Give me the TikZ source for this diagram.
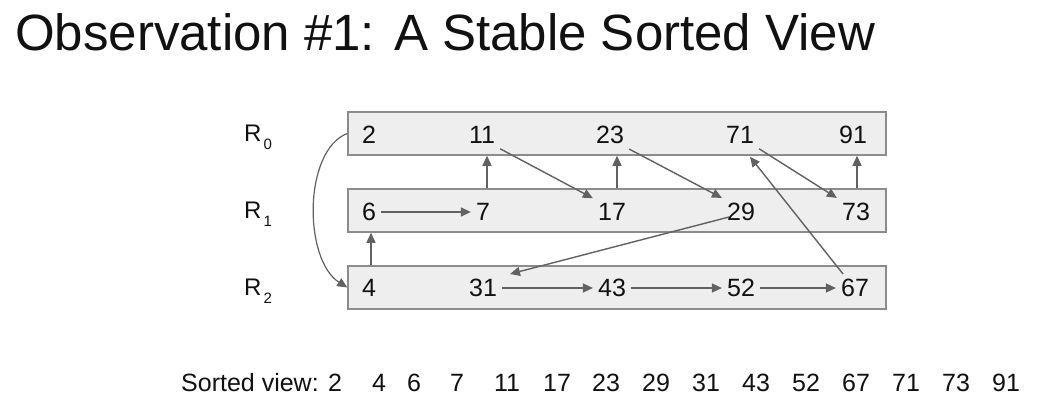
\documentclass[tikz,border=0pt]{standalone}
\usepackage{fontspec}
\setmainfont{Liberation Sans}
\usetikzlibrary{arrows.meta,calc}
\definecolor{boxfill}{HTML}{EEEEEE}
\definecolor{boxline}{HTML}{8C8C8C}
\definecolor{arrowc}{HTML}{616161}
\definecolor{txt}{HTML}{111111}
\begin{document}
\begin{tikzpicture}[x=1pt,y=-1pt,
  rowbox/.style={draw=boxline, fill=boxfill, line width=1.5pt, minimum width=538pt, minimum height=43pt, inner sep=0pt},
  num/.style={font=\fontsize{25}{25}\selectfont, text=txt, inner sep=5pt},
  rlabel/.style={font=\fontsize{24}{24}\selectfont, text=txt, inner sep=0pt, anchor=base west},
  sv/.style={font=\fontsize{25}{25}\selectfont, text=txt, inner sep=0pt, anchor=base},
  conn/.style={draw=arrowc, line width=1.4pt, -{Triangle[length=10pt,width=9pt]}}]
\useasboundingbox[fill=white] (0,0) rectangle (1046,407);
% title
\node[font=\fontsize{51}{51}\selectfont, text=txt, inner sep=0pt, anchor=base west] (title) at (15,50) {Observation \#1: A Stable Sorted View};
% row boxes
\node[rowbox] (b0) at (617,133.5) {};
\node[rowbox] (b1) at (617,210.5) {};
\node[rowbox] (b2) at (617,287.5) {};
% row labels
\node[rlabel] (r0) at (244,141) {R\kern2pt\raisebox{-8pt}{\fontsize{15}{15}\selectfont 0}};
\node[rlabel] (r1) at (244,218) {R\kern2pt\raisebox{-8pt}{\fontsize{15}{15}\selectfont 1}};
\node[rlabel] (r2) at (244,295) {R\kern2pt\raisebox{-8pt}{\fontsize{15}{15}\selectfont 2}};
% numbers
\node[num] (n2)  at (369,135) {2};
\node[num] (n11) at (482,135) {11};
\node[num] (n23) at (610,135) {23};
\node[num] (n71) at (740,135) {71};
\node[num] (n91) at (853,135) {91};
\node[num] (n6)  at (369,212) {6};
\node[num] (n7)  at (483,212) {7};
\node[num] (n17) at (612,212) {17};
\node[num] (n29) at (741,212) {29};
\node[num] (n73) at (856,212) {73};
\node[num] (n4)  at (369,288) {4};
\node[num] (n31) at (483,288) {31};
\node[num] (n43) at (612,288) {43};
\node[num] (n52) at (741,288) {52};
\node[num] (n67) at (855,288) {67};
% column coordinates for vertical arrows
\coordinate (v4)  at ([xshift=2pt]n4.center);
\coordinate (v11) at ([xshift=5pt]n11.center);
\coordinate (v23) at ([xshift=7pt]n23.center);
\coordinate (v73) at ([xshift=1pt]n73.center);
% vertical arrows
\draw[conn] (v4 |- b2.north) -- (v4 |- b1.south);
\draw[conn] (v11 |- b1.north) -- (v11 |- b0.south);
\draw[conn] (v23 |- b1.north) -- (v23 |- b0.south);
\draw[conn] (v73 |- b1.north) -- (v73 |- b0.south);
% horizontal arrows
\draw[conn] (n6.east) -- (n7.west);
\draw[conn] (n31.east) -- (n43.west);
\draw[conn] (n43.east) -- (n52.west);
\draw[conn] (n52.east) -- (n67.west);
% diagonal arrows
\draw[conn] (n11.south east) -- (n17.north west);
\draw[conn] (n23.south east) -- (n29.north west);
\draw[conn] (n71.south east) -- (n73.north west);
\draw[conn] ([xshift=-12pt]n67.north) -- ([shift={(10,8)}]n71.south);
\draw[conn] ([shift={(-12,5)}]n29.center) -- ([shift={(27,-14)}]n31.center);
% curved arrow
\draw[conn, line width=1.2pt] (b0.west) .. controls +(-44,17) and +(-44,-28) .. (b2.west);
% sorted view
\node[font=\fontsize{25}{25}\selectfont, text=txt, inner sep=0pt, anchor=base west] (svl) at (181,391) {Sorted view:};
\node[sv] (s1) at (335,391) {2};
\node[sv] (s2) at (379,391) {4};
\node[sv] (s3) at (414,391) {6};
\node[sv] (s4) at (457,391) {7};
\node[sv] (s5) at (507,391) {11};
\node[sv] (s6) at (557,391) {17};
\node[sv] (s7) at (606,391) {23};
\node[sv] (s8) at (656,391) {29};
\node[sv] (s9) at (706,391) {31};
\node[sv] (s10) at (756,391) {43};
\node[sv] (s11) at (806,391) {52};
\node[sv] (s12) at (856,391) {67};
\node[sv] (s13) at (906,391) {71};
\node[sv] (s14) at (956,391) {73};
\node[sv] (s15) at (1006,391) {91};
\end{tikzpicture}
\end{document}
